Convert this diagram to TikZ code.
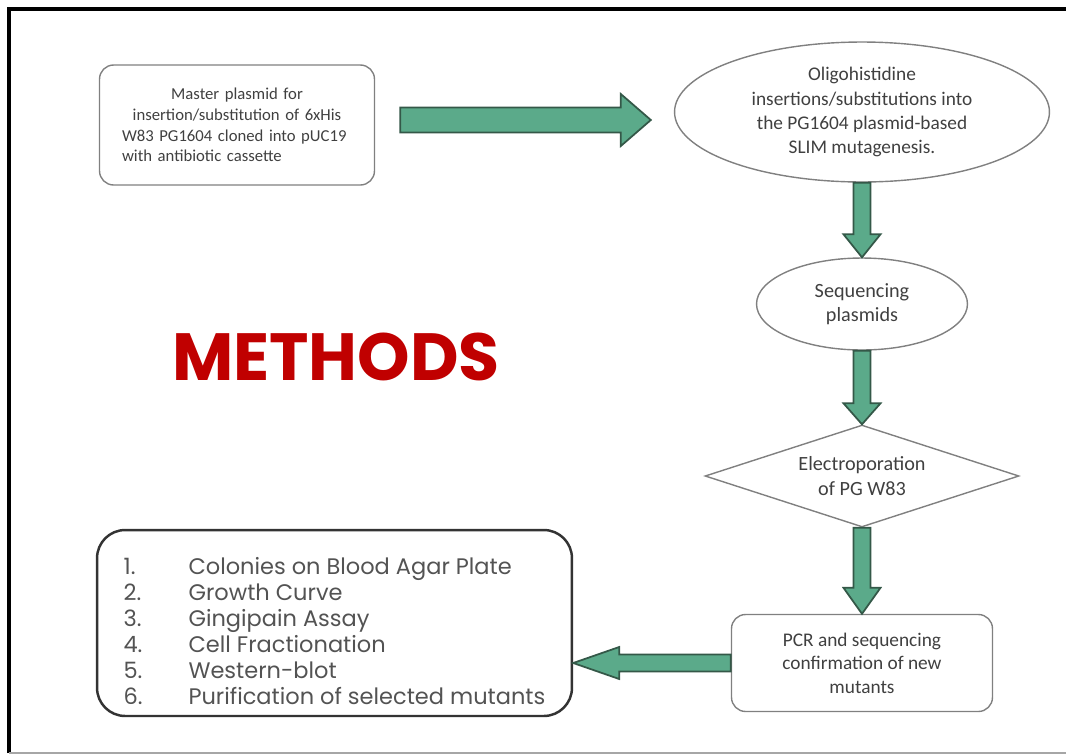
\documentclass[tikz,border=0pt]{standalone}
\usepackage{fontspec}
\setmainfont{Carlito}
\newfontfamily\gothic{Poppins}
\usetikzlibrary{shapes.geometric,calc}

\definecolor{arrowgreen}{RGB}{91,170,138}
\definecolor{arrowedge}{RGB}{52,88,72}
\definecolor{methodsred}{RGB}{192,0,0}
\definecolor{boxgray}{RGB}{128,128,128}
\definecolor{textgray}{RGB}{64,64,64}

% fat green arrow: from, to, body half width, head half width, head length
\newcommand{\fatarrow}[5]{%
  \coordinate (hb) at ($(#2)!#5!(#1)$);
  \draw[blockarrow] ($(#1)!#3!90:(#2)$) -- ($(hb)!#3!90:(#2)$)
    -- ($(hb)!#4!90:(#2)$) -- (#2) -- ($(hb)!#4!-90:(#2)$)
    -- ($(hb)!#3!-90:(#2)$) -- ($(#1)!#3!-90:(#2)$) -- cycle;}

\begin{document}
\begin{tikzpicture}[x=0.02cm,y=-0.02cm,
    stepnode/.style={draw=boxgray,line width=0.8pt,text=textgray,
                     align=center,inner sep=0pt},
    roundbox/.style={stepnode,rectangle,rounded corners=8pt},
    ovalbox/.style={stepnode,ellipse},
    decision/.style={stepnode,diamond},
    blockarrow/.style={draw=arrowedge,fill=arrowgreen,line width=1pt}]
  \useasboundingbox (0,0) rectangle (1066,755);

  % frame
  \draw[line width=2.3pt] (9,753) -- (9,9) -- (1066,9);
  \draw[boxgray!70,line width=1pt] (9,753) -- (1066,753);

  \node[roundbox,minimum width=5.5cm,minimum height=2.4cm,
        text width=4.6cm,align=left,
        font=\fontsize{9.5}{11.8}\selectfont] (master) at (237,125)
    {\makebox[\linewidth]{Master plasmid for}\\
     \makebox[\linewidth]{insertion/substitution of 6xHis}\\
     \makebox[\linewidth][s]{W83 PG1604 cloned into pUC19}\\
     with antibiotic cassette};
  \node[ovalbox,minimum width=7.5cm,minimum height=2.8cm,
        font=\fontsize{11}{13.7}\selectfont] (oligo) at (862,112)
    {Oligohistidine\\ insertions/substitutions into\\
     the PG1604 plasmid-based\\ SLIM mutagenesis.};
  \node[ovalbox,minimum width=4.22cm,minimum height=1.84cm,
        font=\fontsize{11.5}{14}\selectfont] (seq) at (862,304)
    {Sequencing\\ plasmids};
  \node[decision,minimum width=6.28cm,minimum height=2.04cm,aspect=3,
        font=\fontsize{11.5}{14}\selectfont] (electro) at (862,476)
    {Electroporation\\ of PG W83};
  \node[roundbox,minimum width=5.22cm,minimum height=1.94cm,
        font=\fontsize{11}{13.4}\selectfont] (pcr) at (862,663)
    {PCR and sequencing\\ confirmation of new\\ mutants};
  \node[roundbox,draw=black!80,line width=1.4pt,rounded corners=16pt,
        minimum width=9.5cm,minimum height=3.72cm,align=left,
        text=textgray!90,font=\gothic\fontsize{12.8}{14.8}\selectfont]
        (list) at (334.5,623)
    {\begin{tabular}{@{}p{1.3cm}@{}l@{}}
     \rule{0pt}{23pt}1. & Colonies on Blood Agar Plate\\
     2. & Growth Curve\\
     3. & Gingipain Assay\\
     4. & Cell Fractionation\\
     5. & Western-blot\\
     6. & Purification of selected mutants
     \end{tabular}};

  \node[text=methodsred,font=\gothic\bfseries\fontsize{38}{38}\selectfont]
    (title) at (336,357) {METHODS};

  % arrows
  \coordinate (a1) at ($(master.east)+(25,-5)$);
  \coordinate (b1) at ($(oligo.west)+(-23,8)$);
  \coordinate (b5) at (list.east |- pcr.west);
  \fatarrow{a1}{b1}{0.25cm}{0.52cm}{0.6cm}
  \fatarrow{oligo.south}{seq.north}{0.17cm}{0.37cm}{0.46cm}
  \fatarrow{seq.south}{electro.north}{0.17cm}{0.37cm}{0.42cm}
  \fatarrow{electro.south}{pcr.north}{0.17cm}{0.37cm}{0.52cm}
  \fatarrow{pcr.west}{b5}{0.17cm}{0.32cm}{0.92cm}
\end{tikzpicture}
\end{document}
